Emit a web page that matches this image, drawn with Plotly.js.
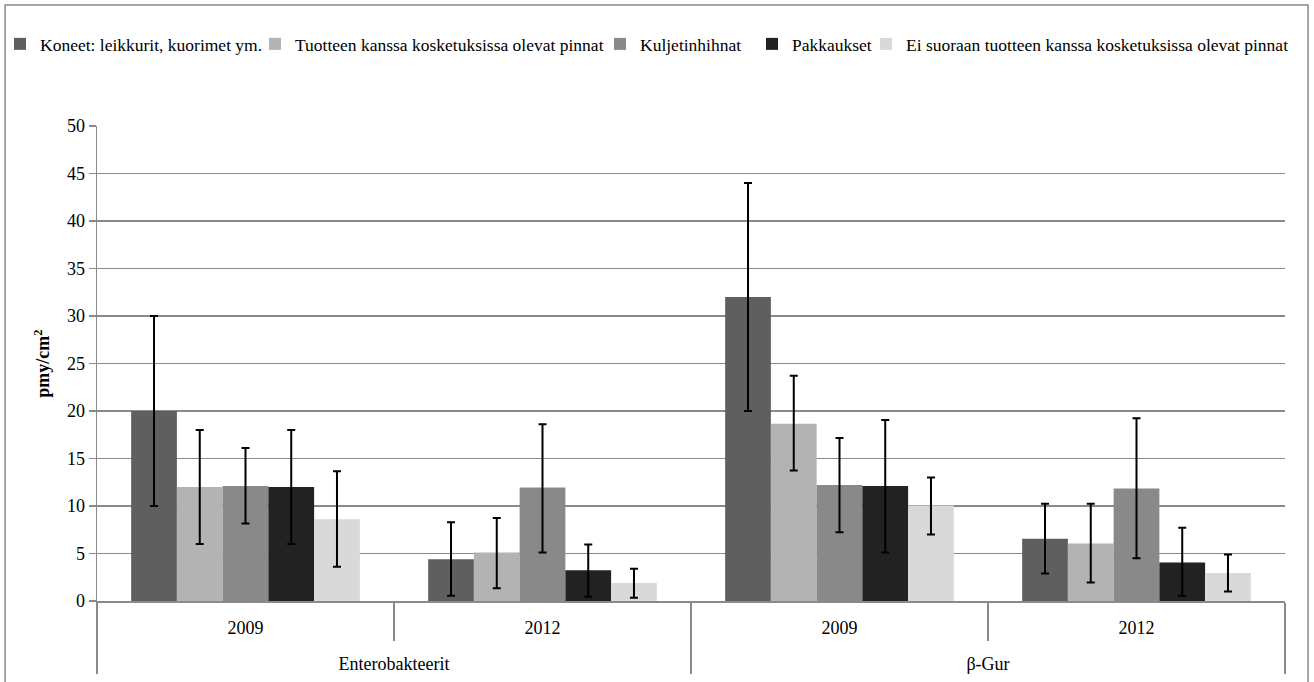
<!DOCTYPE html>
<html>
<head>
<meta charset="utf-8">
<script src="https://cdn.plot.ly/plotly-3.0.1.min.js"></script>
<style>
  html, body { margin: 0; padding: 0; background: #fff; }
  #chart { width: 1314px; height: 682px; }
</style>
</head>
<body>
<div id="chart"></div>
<script>
// Category levels (outer group labels sit one line lower, as in the original)
const groups = ["<br>Enterobakteerit", "<br>Enterobakteerit", "<br>β-Gur", "<br>β-Gur"];
const years = ["2009", "2012", "2009", "2012"];

// Series names
const seriesNames = [
  "Koneet: leikkurit, kuorimet ym.",
  "Tuotteen kanssa kosketuksissa olevat pinnat",
  "Kuljetinhihnat",
  "Pakkaukset",
  "Ei suoraan tuotteen kanssa kosketuksissa olevat pinnat"
];

// Values (pmy/cm²)
const koneet     = [20.0, 4.4, 32.0, 6.55];
const tuotteen   = [12.0, 5.1, 18.65, 6.05];
const kuljetin   = [12.1, 11.95, 12.2, 11.85];
const pakkaukset = [12.0, 3.25, 12.1, 4.05];
const eiSuoraan  = [8.6, 1.9, 10.05, 2.95];

// Error bar extents (upper / lower amounts)
const koneetPlus      = [10.0, 3.9, 12.0, 3.7];
const koneetMinus     = [10.0, 3.85, 12.0, 3.65];
const tuotteenPlus    = [6.0, 3.65, 5.05, 4.2];
const tuotteenMinus   = [6.0, 3.75, 4.9, 4.1];
const kuljetinPlus    = [4.0, 6.65, 4.95, 7.4];
const kuljetinMinus   = [3.95, 6.85, 4.95, 7.35];
const pakkauksetPlus  = [6.0, 2.7, 6.95, 3.65];
const pakkauksetMinus = [6.0, 2.8, 7.0, 3.5];
const eiSuoraanPlus   = [5.05, 1.5, 2.95, 1.95];
const eiSuoraanMinus  = [5.0, 1.55, 3.05, 1.95];

const colors = ["#5f5f5f", "#b3b3b3", "#898989", "#222222", "#d9d9d9"];

const vals = [koneet, tuotteen, kuljetin, pakkaukset, eiSuoraan];
const plus = [koneetPlus, tuotteenPlus, kuljetinPlus, pakkauksetPlus, eiSuoraanPlus];
const minus = [koneetMinus, tuotteenMinus, kuljetinMinus, pakkauksetMinus, eiSuoraanMinus];

const FONT = "Liberation Serif";
const legendIds = ["legend", "legend2", "legend3", "legend4", "legend5"];
const legendX = [0, 255, 600, 752, 866];   // px, left edge of each legend entry

const traces = seriesNames.map((name, i) => ({
  type: "bar",
  name: name,
  legend: legendIds[i],
  x: [groups, years],
  y: vals[i],
  marker: { color: colors[i], line: { width: 0 } },
  error_y: {
    type: "data",
    symmetric: false,
    array: plus[i],
    arrayminus: minus[i],
    color: "#000000",
    thickness: 2,
    width: 4
  },
  hoverinfo: "y"
}));

const W = 1314, H = 682;

const layout = {
  width: W,
  height: H,
  margin: { l: 97, r: 29, t: 126, b: 81, pad: 0 },
  paper_bgcolor: "#ffffff",
  plot_bgcolor: "#ffffff",
  font: { family: FONT, size: 18, color: "#000000" },
  barmode: "group",
  bargap: 0.23,
  bargroupgap: 0,
  showlegend: true,
  xaxis: {
    type: "multicategory",
    showline: true,
    linecolor: "#8a8a8a",
    linewidth: 1.5,
    ticks: "outside",
    ticklen: 38,
    tickcolor: "#8a8a8a",
    tickwidth: 1.5,
    tickson: "boundaries",
    ticklabelstandoff: 10,
    showdividers: true,
    dividercolor: "#8a8a8a",
    dividerwidth: 1.5,
    showgrid: false,
    tickfont: { family: FONT, size: 18, color: "#000000" }
  },
  yaxis: {
    range: [0, 50],
    dtick: 5,
    tick0: 0,
    showline: true,
    linecolor: "#8a8a8a",
    linewidth: 1.5,
    ticks: "outside",
    ticklen: 7,
    tickcolor: "#8a8a8a",
    tickwidth: 1.5,
    showgrid: true,
    gridcolor: "#8a8a8a",
    gridwidth: 1.5,
    zeroline: false,
    tickfont: { family: FONT, size: 18, color: "#000000" },
    title: {
      text: "<b>pmy/cm<sup>2</sup></b>",
      font: { family: FONT, size: 18, color: "#000000" },
      standoff: 12
    }
  },
  shapes: [{
    type: "rect",
    xref: "paper",
    yref: "paper",
    x0: -0.0774,
    x1: 1.0194,
    y0: -0.2,
    y1: 1.2547,
    line: { color: "#8a8a8a", width: 1.5 },
    fillcolor: "rgba(0,0,0,0)",
    layer: "below"
  }]
};

legendIds.forEach((id, i) => {
  layout[id] = {
    orientation: "h",
    xref: "container",
    yref: "container",
    x: legendX[i] / W,
    y: 1 - 26 / H,
    xanchor: "left",
    yanchor: "top",
    font: { family: FONT, size: 17.5, color: "#000000" },
    itemwidth: 30,
    bgcolor: "rgba(0,0,0,0)",
    borderwidth: 0
  };
});

Plotly.newPlot("chart", traces, layout, { displayModeBar: false, staticPlot: true });
</script>
</body>
</html>
